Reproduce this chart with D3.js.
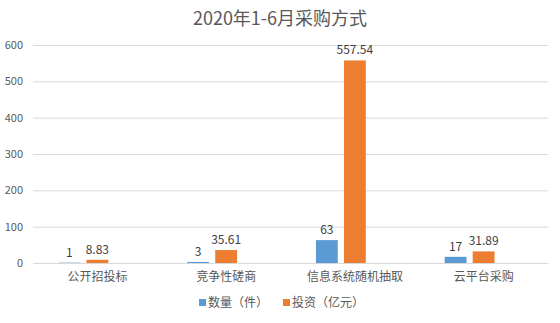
<!DOCTYPE html>
<html><head><meta charset="utf-8">
<script src="https://cdn.jsdelivr.net/npm/d3@7"></script>
<style>body{margin:0;background:#fff}svg{display:block}text{font-family:"Noto Sans CJK SC","Liberation Sans",sans-serif}</style>
</head><body><svg id="c" width="560" height="323"></svg>
<script>
const categories = ["公开招投标","竞争性磋商","信息系统随机抽取","云平台采购"];
const seriesNames = ["数量（件）","投资（亿元）"];
const countValues = [1,3,63,17];
const investValues = [8.83,35.61,557.54,31.89];
const countLabels = ["1","3","63","17"];
const investLabels = ["8.83","35.61","557.54","31.89"];
const yTicks = [0,100,200,300,400,500,600];
const colors = ["#5B9BD5","#ED7D31"];
const title = "2020年1-6月采购方式";

const svg = d3.select("#c");
const x0 = d3.scaleBand().domain(categories).range([33,548]);
// three slots per group (third slot empty, as in the source chart)
const x1 = d3.scaleBand().domain(["s0","s1","s2"]).range([-42,42]).paddingInner(0.22).paddingOuter(0.11);
const y = d3.scaleLinear().domain([0,600]).range([263,45]);

svg.append("text").attr("x",280).attr("y",25).attr("text-anchor","middle")
  .attr("font-size",18).attr("fill","#595959").text(title);

const grid = svg.append("g");
grid.selectAll("line").data(yTicks).join("line")
  .attr("x1",33).attr("x2",548).attr("y1",d=>y(d)+0.5).attr("y2",d=>y(d)+0.5)
  .attr("stroke","#D9D9D9").attr("stroke-width",1);

const yAxis = d3.axisLeft(y).tickValues(yTicks).tickSize(0).tickPadding(0);
const ga = svg.append("g").attr("transform","translate(23,0)").call(yAxis);
ga.select(".domain").remove();
ga.selectAll("text").attr("font-size",11).attr("fill","#595959").attr("font-family","Liberation Sans, sans-serif");

const series = [countValues, investValues];
const labels = [countLabels, investLabels];
series.forEach((vals,si)=>{
  const g = svg.append("g");
  g.selectAll("rect").data(vals).join("rect")
    .attr("x",(d,i)=>x0(categories[i])+x0.bandwidth()/2+x1("s"+si))
    .attr("width",x1.bandwidth())
    .attr("y",d=>y(d)).attr("height",d=>y(0)-y(d))
    .attr("fill",colors[si]);
  g.selectAll("text").data(vals).join("text")
    .attr("x",(d,i)=>x0(categories[i])+x0.bandwidth()/2+x1("s"+si)+x1.bandwidth()/2)
    .attr("y",d=>y(d)-6)
    .attr("text-anchor","middle").attr("font-size",12).attr("fill","#404040")
    .attr("font-family","Liberation Sans, sans-serif")
    .text((d,i)=>labels[si][i]);
});

const xAxis = d3.axisBottom(x0).tickSize(0).tickPadding(9);
const gx = svg.append("g").attr("transform","translate(0,"+y(0)+")").call(xAxis);
gx.select(".domain").attr("stroke","#D9D9D9");
gx.selectAll("text").attr("font-size",12).attr("fill","#595959").attr("font-family","Noto Sans CJK SC, sans-serif");

const legend = svg.append("g");
const lx = [199,283];
seriesNames.forEach((n,i)=>{
  legend.append("rect").attr("x",lx[i]).attr("y",299).attr("width",7).attr("height",7).attr("fill",colors[i]);
  legend.append("text").attr("x",lx[i]+9).attr("y",307).attr("font-size",12).attr("fill","#595959").text(n);
});
</script></body></html>
